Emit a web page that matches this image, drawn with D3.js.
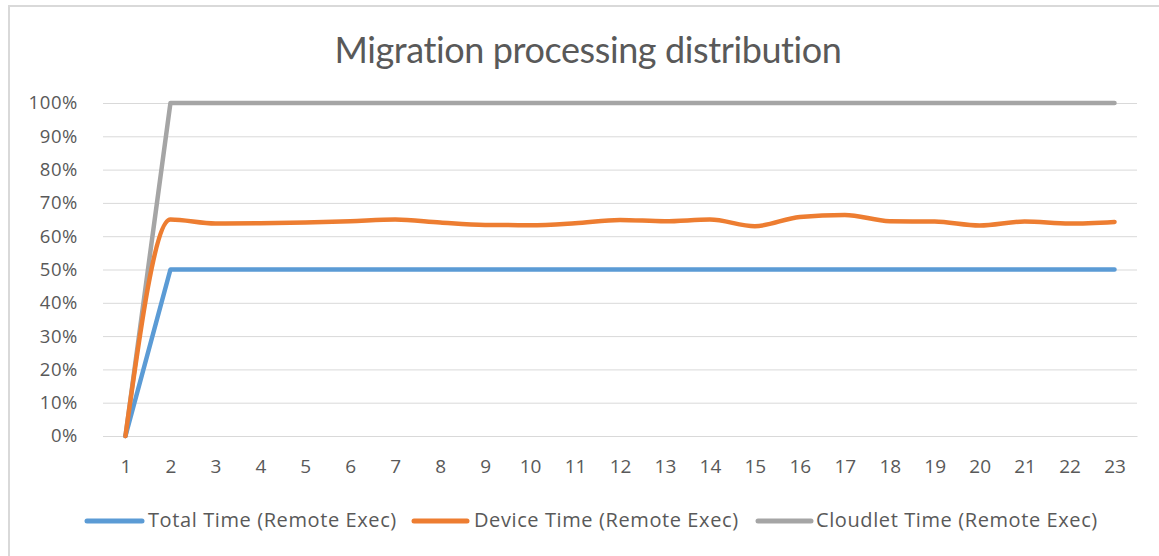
<!DOCTYPE html>
<html><head><meta charset="utf-8">
<script src="https://cdn.jsdelivr.net/npm/d3@7"></script>
<style>html,body{margin:0;padding:0;background:#fff;}svg{display:block;}</style>
</head><body>
<svg id="chart" width="1159" height="556"></svg>
<script>
const categories = ["1","2","3","4","5","6","7","8","9","10","11","12","13","14","15","16","17","18","19","20","21","22","23"];
const totalTime = [0,50,50,50,50,50,50,50,50,50,50,50,50,50,50,50,50,50,50,50,50,50,50];
const deviceTime = [0,65,63.8,63.9,64.1,64.5,65,64.1,63.4,63.3,63.9,64.9,64.5,65,63,65.8,66.4,64.5,64.4,63.2,64.4,63.8,64.3];
const cloudletTime = [0,100,100,100,100,100,100,100,100,100,100,100,100,100,100,100,100,100,100,100,100,100,100];
const yTicks = [0,10,20,30,40,50,60,70,80,90,100];
const seriesNames = ["Total Time (Remote Exec)","Device Time (Remote Exec)","Cloudlet Time (Remote Exec)"];
const seriesColors = ["#5b9bd5","#ed7d31","#a5a5a5"];

const svg = d3.select("#chart");
const font = "'Open Sans', sans-serif";
const textColor = "#595959";

svg.append("rect").attr("x",9).attr("y",6).attr("width",1160).attr("height",560)
  .attr("fill","#fff").attr("stroke","#d9d9d9").attr("stroke-width",2);

svg.append("text").attr("x",588).attr("y",63).attr("text-anchor","middle")
  .attr("font-family","Lato, sans-serif").attr("font-size",36).attr("letter-spacing",-0.4).attr("fill",textColor)
  .text("Migration processing distribution");

const x = d3.scalePoint().domain(categories).range([103,1137]).padding(0.5);
const y = d3.scaleLinear().domain([0,100]).range([436,103]);

// gridlines
const yAxis = d3.axisLeft(y).tickValues(yTicks).tickSize(-(1137-103)).tickFormat(d=>d+"%");
const gy = svg.append("g").attr("transform","translate(103,0)").call(yAxis);
gy.select(".domain").remove();
gy.selectAll(".tick line").attr("stroke","#d9d9d9").attr("stroke-width",1);
gy.selectAll(".tick text").attr("font-family",font).attr("font-size",18.5).attr("letter-spacing",0.6)
  .attr("fill",textColor).attr("x",-25);

const xAxis = d3.axisBottom(x).tickSize(0);
const gx = svg.append("g").attr("transform","translate(0,436)").call(xAxis);
gx.select(".domain").attr("stroke","#d9d9d9");
gx.selectAll(".tick text").attr("font-family",font).attr("font-size",19).attr("fill",textColor)
  .attr("y",37).attr("dy","0");

const series = [totalTime, deviceTime, cloudletTime];
const drawOrder = [2,0,1];
drawOrder.forEach(i=>{
  const line = d3.line().x((d,j)=>x(categories[j])).y(d=>y(d))
    .curve(i===1 ? d3.curveMonotoneX : d3.curveLinear);
  svg.append("path").datum(series[i]).attr("d",line).attr("fill","none")
    .attr("stroke",seriesColors[i]).attr("stroke-width",4.5)
    .attr("stroke-linejoin","round").attr("stroke-linecap","round");
});

// legend
const legendLine = [[87,142],[414,467],[758,811]];
const legendText = [148,474,816];
const lg = svg.append("g");
seriesNames.forEach((n,i)=>{
  lg.append("line").attr("x1",legendLine[i][0]).attr("x2",legendLine[i][1]).attr("y1",521).attr("y2",521)
    .attr("stroke",seriesColors[i]).attr("stroke-width",5).attr("stroke-linecap","round");
  lg.append("text").attr("x",legendText[i]).attr("y",527).attr("font-family",font)
    .attr("font-size",20).attr("fill",textColor).attr("letter-spacing",0.6).text(n);
});
</script>
</body></html>
